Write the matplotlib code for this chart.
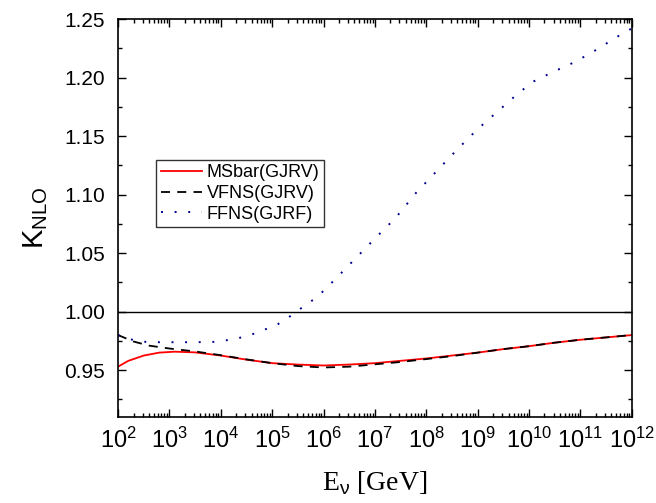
import matplotlib
matplotlib.use("Agg")
import matplotlib.pyplot as plt
from matplotlib.ticker import LogLocator, MultipleLocator, NullFormatter, FormatStrFormatter
import numpy as np

# log10(E_nu / GeV) and K_NLO
msbar_logE = [2.0, 2.2, 2.5, 2.8, 3.1, 3.5, 4.0, 4.5, 5.0, 5.5, 6.0, 6.5, 7.0, 7.5,
              8.0, 8.5, 9.0, 9.5, 10.0, 10.5, 11.0, 11.5, 12.0]
msbar_k = [0.953, 0.958, 0.9625, 0.965, 0.9658, 0.9652, 0.9625, 0.959, 0.956, 0.9548,
           0.954, 0.9548, 0.956, 0.958, 0.960, 0.9625, 0.965, 0.968, 0.9705, 0.9735,
           0.976, 0.978, 0.980]

vfns_logE = [2.0, 2.3, 2.6, 3.0, 3.5, 4.0, 4.5, 5.0, 5.5, 6.0, 6.5, 7.0, 7.5, 8.0,
             8.5, 9.0, 9.5, 10.0, 10.5, 11.0, 11.5, 12.0]
vfns_k = [0.980, 0.9745, 0.971, 0.9685, 0.966, 0.9628, 0.9592, 0.956, 0.9535, 0.9523,
          0.953, 0.955, 0.957, 0.9595, 0.962, 0.965, 0.968, 0.9705, 0.9735, 0.976,
          0.978, 0.980]

ffns_logE = [2.0, 2.2, 2.4, 2.7, 3.0, 3.5, 3.9, 4.1, 4.3, 4.5, 4.7, 4.9, 5.1, 5.3,
             5.5, 5.7, 5.9, 6.2, 6.6, 7.0, 7.4, 7.8, 8.2, 8.6, 9.0, 9.4, 9.8, 10.1,
             10.5, 10.9, 11.3, 11.7, 12.0]
ffns_k = [0.980, 0.977, 0.9745, 0.9739, 0.9739, 0.9739, 0.9742, 0.9755, 0.977, 0.979,
          0.982, 0.9855, 0.989, 0.9945, 1.001, 1.007, 1.0135, 1.0265, 1.0445, 1.0625,
          1.080, 1.1015, 1.120, 1.1385, 1.156, 1.1715, 1.187, 1.197, 1.2055, 1.2135,
          1.2235, 1.2345, 1.242]

x_ticks = [1e2, 1e3, 1e4, 1e5, 1e6, 1e7, 1e8, 1e9, 1e10, 1e11, 1e12]

plt.rcParams["font.family"] = ["Liberation Sans", "DejaVu Sans"]
plt.rcParams["mathtext.fontset"] = "custom"
plt.rcParams["mathtext.rm"] = "Liberation Sans"
plt.rcParams["mathtext.it"] = "Liberation Sans:italic"

fig = plt.figure(figsize=(6.56, 5.03), dpi=100)
ax = fig.add_axes([0.180, 0.171, 0.783, 0.791])

ax.axhline(1.0, color="black", linewidth=1.0)
ax.plot(10.0 ** np.array(msbar_logE), msbar_k, color="red", linewidth=1.3,
        label="MSbar(GJRV)")
ax.plot(10.0 ** np.array(vfns_logE), vfns_k, color="black", linewidth=1.3,
        linestyle=(0, (5, 4)), label="VFNS(GJRV)")
ax.plot(10.0 ** np.array(ffns_logE), ffns_k, color="#00008b", linewidth=1.4,
        linestyle=(0, (1, 6)), label="FFNS(GJRF)")

ax.set_xscale("log")
ax.set_xlim(1e2, 1e12)
ax.set_ylim(0.91, 1.25)
ax.set_xticks(x_ticks)
ax.xaxis.set_minor_locator(LogLocator(base=10, subs=np.arange(2, 10), numticks=100))
ax.xaxis.set_minor_formatter(NullFormatter())
ax.yaxis.set_major_locator(MultipleLocator(0.05))
ax.yaxis.set_minor_locator(MultipleLocator(0.025))
ax.yaxis.set_major_formatter(FormatStrFormatter("%.2f"))

ax.tick_params(which="both", direction="in", top=True, right=True, width=1.0)
ax.tick_params(which="major", length=6)
ax.tick_params(which="minor", length=3)
ax.tick_params(axis="y", labelsize=15, pad=9.5)
ax.tick_params(axis="x", labelsize=17, pad=8)
for s in ax.spines.values():
    s.set_linewidth(1.2)

ax.set_ylabel(r"K$_{\mathrm{NLO}}$", fontsize=21, labelpad=10)
ax.set_xlabel(r"E$_{\mathrm{\nu}}$ [GeV]", fontsize=20, family="Liberation Serif",
              labelpad=12)

leg = ax.legend(loc="upper left", bbox_to_anchor=(0.074, 0.646), borderaxespad=0,
                fontsize=13, frameon=True, fancybox=False, handlelength=2.3,
                labelspacing=0.2, borderpad=0.25, handletextpad=0.25)
leg.get_frame().set_edgecolor("black")
leg.get_frame().set_linewidth(1.0)

fig.savefig("out.png", dpi=100)
